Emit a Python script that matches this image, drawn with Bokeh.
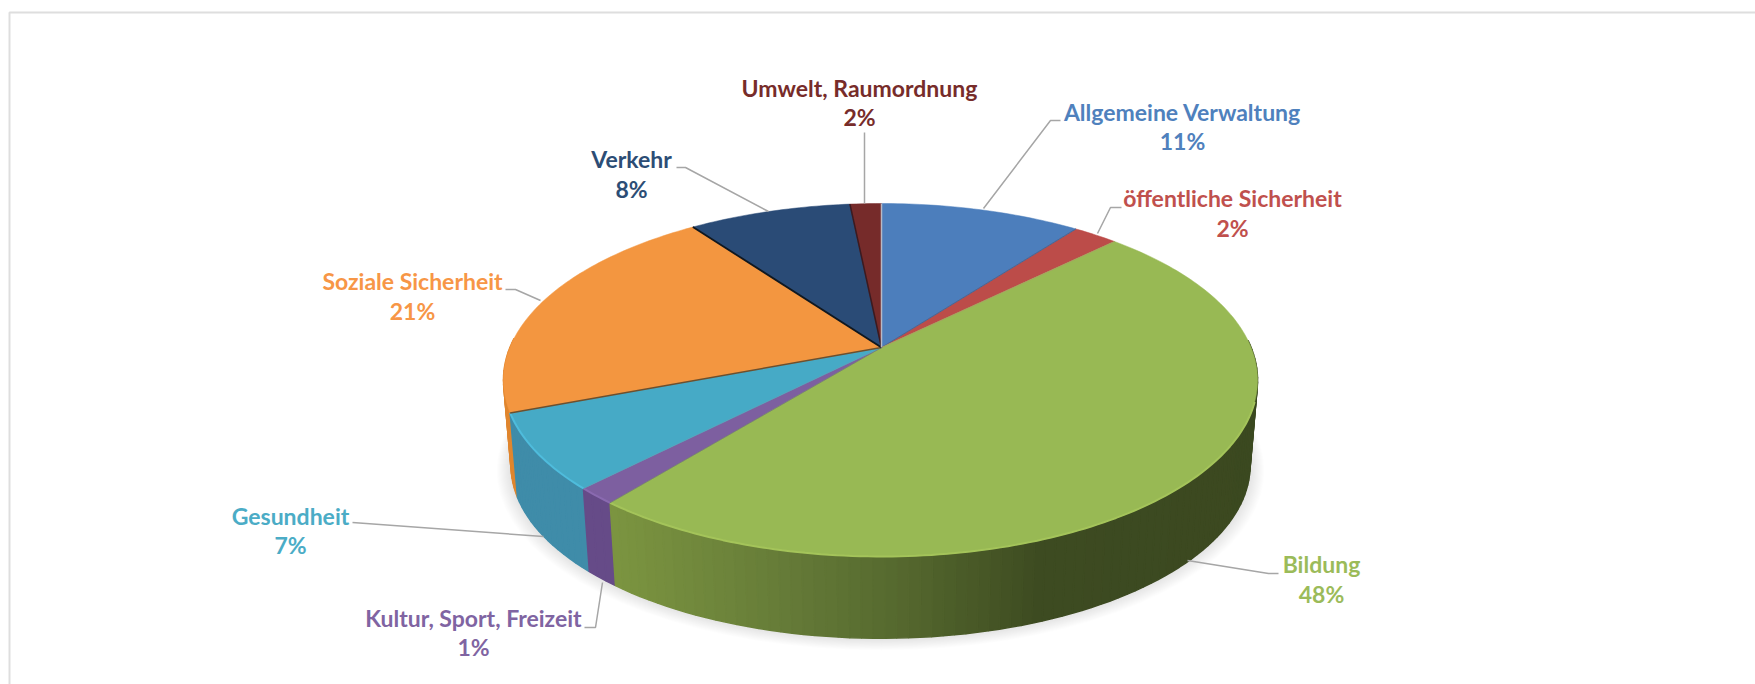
import math
from bokeh.plotting import figure
from bokeh.models import Range1d, ColumnDataSource
from bokeh.core.properties import value
from bokeh.embed import file_html
from bokeh.resources import INLINE

# ---- data
categories = ["Allgemeine Verwaltung", "öffentliche Sicherheit", "Bildung",
              "Kultur, Sport, Freizeit", "Gesundheit", "Soziale Sicherheit",
              "Verkehr", "Umwelt, Raumordnung"]
shares = [10.3, 2.3, 48.1, 1.5, 6.9, 20.9, 8.3, 1.6]
percent_labels = ["11%", "2%", "48%", "1%", "7%", "21%", "8%", "2%"]

# ---- styling
top_colors = ["#4C7EBC", "#BC4C49", "#98B954", "#7D5FA0", "#46AAC6", "#F39640", "#2A4B76", "#762B2A"]
text_colors = ["#4F81BD", "#C0504D", "#9BBB59", "#8064A2", "#4BACC6", "#F79646", "#2C4D75", "#772C2A"]
side_colors = [("#2F4F75",), ("#7A2F2D",), None, ("#664B88",), ("#3F8CA9",), ("#E0862E",), ("#1A3050",), ("#4A1B1A",)]
rim_colors = ["#5A90D0", "#D05A56", "#A4C45A", "#8A6AB0", "#4FBCDC", "#F8A050", "#30558A", "#853230"]
# boundary line drawn after each slice (between it and the next)
edge_colors = ["#3D6A9E", "#A8A060", "#6A8A50", "#5C9CB0", "#6A5030", "#101820", "#3A1A20", "#B8B8C4"]
edge_widths = [1, 1, 0.5, 0.5, 1.5, 1.8, 1.5, 1.5]
green_stops = [(617, (0x7B, 0x94, 0x40)), (780, (0x66, 0x7C, 0x38)), (900, (0x55, 0x68, 0x2E)),
               (1040, (0x3D, 0x4B, 0x21)), (1300, (0x3B, 0x48, 0x20))]

APEX_X, APEX_Y = 881.0, 347.0
BASE_Y = 433.0
F, G, K, BASE_SCALE = 370.6, 170.5, 0.184, 0.98
PIE_SHIFT = -1.0

name_pos = [(1182, 111), (1232, 197), (1321, 563), (473, 617), (290, 515), (412, 280), (631, 158), (859, 87)]
pct_pos = [(1182, 140), (1232, 227), (1321, 593), (473, 646), (290, 544), (412, 310), (631, 188), (859, 116)]
leaders = [
    [(1060, 120), (1050, 120), (983, 208)],
    [(1121, 207), (1110, 207), (1097, 233)],
    [(1278, 573), (1268, 573), (1187, 560)],
    [(584, 627), (595, 627), (602, 582)],
    [(352, 522), (543, 536)],
    [(505, 289), (515, 289), (540, 300)],
    [(676, 167), (685, 167), (768, 211)],
    [(864, 132), (864, 203)],
]


def top_pt(theta):
    X, Y = math.sin(theta), -math.cos(theta)
    w = 1 - K * Y
    return APEX_X + PIE_SHIFT * abs(X) + F * X / w, APEX_Y + G * Y / w


def base_pt(theta):
    X, Y = math.sin(theta), -math.cos(theta)
    w = 1 - K * Y
    return APEX_X + PIE_SHIFT * abs(X) + BASE_SCALE * F * X / w, BASE_Y + BASE_SCALE * G * Y / w


def green_at(x):
    for (x0, c0), (x1, c1) in zip(green_stops, green_stops[1:]):
        if x <= x1:
            t = max(0.0, (x - x0) / (x1 - x0))
            return "#%02x%02x%02x" % tuple(round(a + (b - a) * t) for a, b in zip(c0, c1))
    return "#3b4820"


p = figure(width=1755, height=684, output_backend="svg", toolbar_location=None,
           x_range=Range1d(0, 1755), y_range=Range1d(684, 0),
           min_border=0, outline_line_color=None, background_fill_color="white",
           border_fill_color="white")
p.axis.visible = False
p.grid.visible = False

# frame
p.line([9, 9, 1755], [684, 12, 12], line_color="#dedede", line_width=2)

# slice angles
edges = [0.0]
total = sum(shares)
for s in shares:
    edges.append(edges[-1] + s / total * 2 * math.pi)

# soft drop shadow
steps = 14
for i in range(steps, 0, -1):
    grow = 1 + i * 0.0028
    xs, ys = [], []
    for d in range(0, 360, 4):
        x, y = base_pt(math.radians(d))
        xs.append(APEX_X + (x - APEX_X) * grow)
        ys.append(BASE_Y + (y - BASE_Y) * grow + i * 0.3)
    p.patch(xs, ys, fill_color="black", fill_alpha=0.008, line_color=None)

# side wall strips, back to front (back ones are hidden by the top face)
strips = []
for i, s in enumerate(shares):
    a0, a1 = edges[i], edges[i + 1]
    n = max(1, int((a1 - a0) / math.radians(1.5)))
    for j in range(n):
        t0 = a0 + (a1 - a0) * j / n
        t1 = a0 + (a1 - a0) * (j + 1) / n
        if -math.cos((t0 + t1) / 2) < -0.05:
            continue
        pts = [top_pt(t0), top_pt(t1), base_pt(t1), base_pt(t0)]
        xm = (pts[0][0] + pts[1][0]) / 2
        col = green_at(xm) if side_colors[i] is None else side_colors[i][0]
        strips.append((-math.cos((t0 + t1) / 2), [q[0] for q in pts], [q[1] for q in pts], col))
strips.sort(key=lambda r: r[0])
p.patches([r[1] for r in strips], [r[2] for r in strips], fill_color=[r[3] for r in strips],
          line_color=[r[3] for r in strips], line_width=1.5)

# top face
for i, s in enumerate(shares):
    a0, a1 = edges[i], edges[i + 1]
    n = max(2, int((a1 - a0) / math.radians(1)))
    pts = [(APEX_X, APEX_Y)] + [top_pt(a0 + (a1 - a0) * j / n) for j in range(n + 1)]
    p.patch([q[0] for q in pts], [q[1] for q in pts], fill_color=top_colors[i],
            line_color=top_colors[i], line_width=0.5)
    # bright bevel along the front rim
    front = [q for q in pts[1:] if q[1] > 400 and i in (2, 3, 4)]
    if len(front) > 1:
        p.line([q[0] for q in front], [q[1] for q in front], line_color=rim_colors[i], line_width=2)

# slice boundaries
for i in range(len(shares)):
    x, y = top_pt(edges[i + 1])
    p.line([APEX_X, x], [APEX_Y, y], line_color=edge_colors[i], line_width=edge_widths[i])

# leaders
for pts in leaders:
    p.line([q[0] for q in pts], [q[1] for q in pts], line_color="#a6a6a6", line_width=1.5)

# labels
src = ColumnDataSource(dict(
    nx=[q[0] for q in name_pos], ny=[q[1] for q in name_pos], name=categories,
    px=[q[0] for q in pct_pos], py=[q[1] for q in pct_pos], pct=percent_labels,
    c=text_colors))
for xk, yk, tk in (("nx", "ny", "name"), ("px", "py", "pct")):
    p.text(x=xk, y=yk, text=tk, source=src, text_color="c", text_font=value("Lato"),
           text_font_style="bold", text_font_size="23px", text_align="center",
           text_baseline="middle")

open("out.html", "w").write(file_html(p, INLINE))
